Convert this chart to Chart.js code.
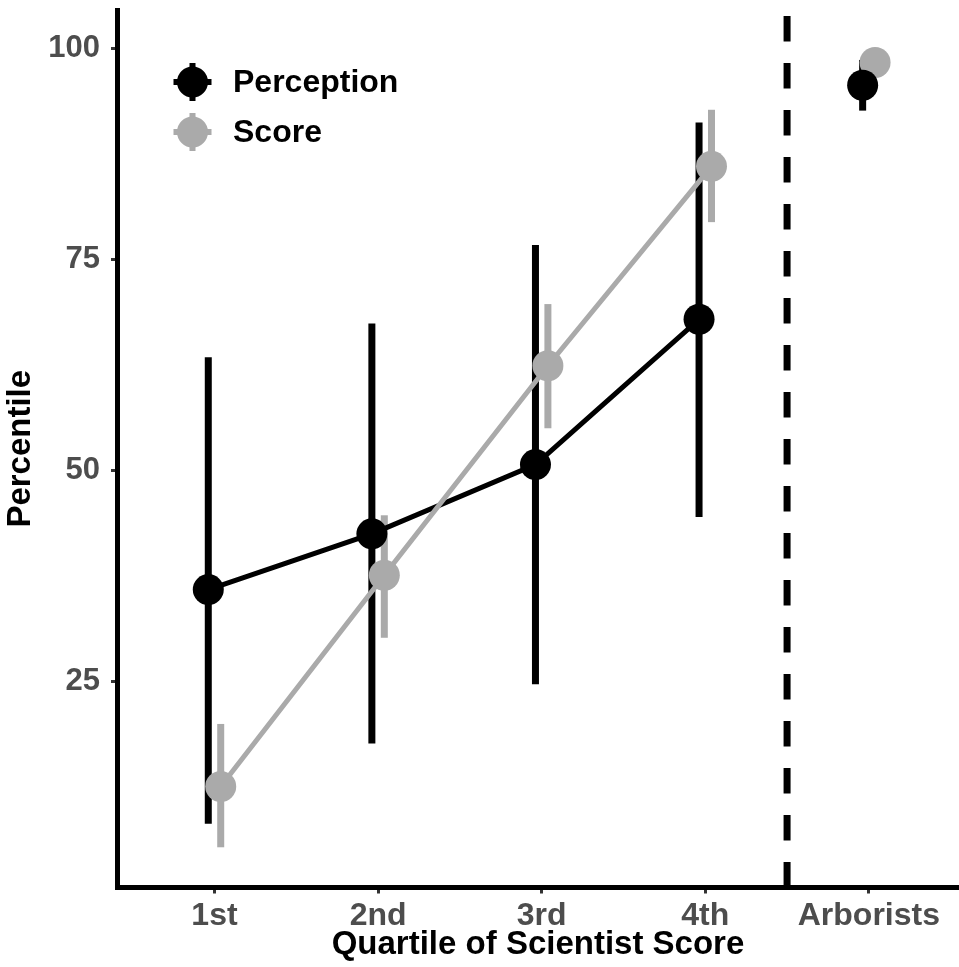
<!DOCTYPE html>
<html>
<head>
<meta charset="utf-8">
<script src="https://cdn.jsdelivr.net/npm/chart.js@4"></script>
<style>
  html, body { margin: 0; padding: 0; background: #fff; overflow: hidden; }
  #wrap { width: 959px; height: 967px; position: relative; }
</style>
</head>
<body>
<div id="wrap"><canvas id="c"></canvas></div>
<script>
// ---- data ----
const categories = ["1st", "2nd", "3rd", "4th", "Arborists"];
const seriesNames = ["Perception", "Score"];
const perception   = [35.9, 42.5, 50.7, 67.9, 95.6];
const perceptionLo = [8.2, 17.7, 24.7, 44.5, 92.6];
const perceptionHi = [63.4, 67.4, 76.7, 91.2, 98.6];
const score   = [12.6, 37.6, 62.4, 86.0, 98.3];
const scoreLo = [5.4, 30.2, 55.0, 79.4, 97.2];
const scoreHi = [20.0, 44.7, 69.7, 92.7, 99.4];
const yTickValues = [25, 50, 75, 100];
const xLabel = "Quartile of Scientist Score";
const yLabel = "Percentile";
const separatorAt = 4.5;

// ---- styling ----
const BLACK = "#000000";
const GREY = "#AAAAAA";
const DODGE = 0.038;
const FONT = "'Liberation Sans', Arial, sans-serif";

function pts(vals, dodge, from, to) {
  const out = [];
  for (let i = from; i < to; i++) out.push({ x: i + 1 + dodge, y: vals[i] });
  return out;
}
// score: quartiles connected, Arborists separate (gap)
const scorePts = pts(score, DODGE, 0, 4).concat([{ x: 4.5, y: null }, { x: 5 + DODGE, y: score[4] }]);

const errorSets = [
  { vals: perception, lo: perceptionLo, hi: perceptionHi, dodge: -DODGE, color: BLACK },
  { vals: score, lo: scoreLo, hi: scoreHi, dodge: DODGE, color: GREY }
];

const errorBarPlugin = {
  id: "errorBars",
  beforeDatasetsDraw(chart) {
    const { ctx, scales: { x, y }, chartArea } = chart;
    ctx.save();
    // dashed separator
    ctx.strokeStyle = BLACK;
    ctx.lineWidth = 7;
    ctx.setLineDash([25.5, 21.5]);
    ctx.lineDashOffset = 41;
    const sx = x.getPixelForValue(separatorAt);
    ctx.beginPath();
    ctx.moveTo(sx, chartArea.top);
    ctx.lineTo(sx, chartArea.bottom);
    ctx.stroke();
    ctx.setLineDash([]);
    // error bars
    ctx.lineCap = "butt";
    errorSets.forEach(s => {
      ctx.strokeStyle = s.color;
      ctx.lineWidth = 7;
      for (let i = 0; i < s.vals.length; i++) {
        const px = x.getPixelForValue(i + 1 + s.dodge);
        ctx.beginPath();
        ctx.moveTo(px, y.getPixelForValue(s.lo[i]));
        ctx.lineTo(px, y.getPixelForValue(s.hi[i]));
        ctx.stroke();
      }
    });
    ctx.restore();
  },
  afterDraw(chart) {
    const { ctx } = chart;
    ctx.save();
    const colors = [BLACK, GREY];
    const cx = 192.5, ys = [82, 132];
    seriesNames.forEach((name, i) => {
      const cy = ys[i];
      ctx.fillStyle = colors[i];
      ctx.strokeStyle = colors[i];
      ctx.lineWidth = 6;
      ctx.beginPath();
      ctx.moveTo(cx, cy - 19); ctx.lineTo(cx, cy + 19);
      ctx.moveTo(cx - 19, cy); ctx.lineTo(cx + 19, cy);
      ctx.stroke();
      ctx.beginPath();
      ctx.arc(cx, cy, 15.5, 0, Math.PI * 2);
      ctx.fill();
      ctx.fillStyle = BLACK;
      ctx.font = "bold 32px " + FONT;
      ctx.textBaseline = "middle";
      ctx.textAlign = "left";
      ctx.fillText(name, 233, cy + 1);
    });
    ctx.restore();
  }
};

new Chart(document.getElementById("c"), {
  type: "line",
  data: {
    datasets: [
      { // Arborists perception point (on top)
        label: seriesNames[0] + " arborists",
        data: [{ x: 5 - DODGE, y: perception[4] }],
        showLine: false,
        pointRadius: 15.5, pointBackgroundColor: BLACK, pointBorderWidth: 0,
        borderColor: BLACK
      },
      {
        label: seriesNames[1],
        data: scorePts,
        borderColor: GREY, borderWidth: 5, spanGaps: false,
        pointRadius: 15.5, pointBackgroundColor: GREY, pointBorderWidth: 0
      },
      {
        label: seriesNames[0],
        data: pts(perception, -DODGE, 0, 4),
        borderColor: BLACK, borderWidth: 5,
        pointRadius: 15.5, pointBackgroundColor: BLACK, pointBorderWidth: 0
      }
    ]
  },
  options: {
    responsive: true,
    maintainAspectRatio: false,
    animation: false,
    events: [],
    layout: { autoPadding: false, padding: { top: 10, right: 0, left: 0, bottom: 0 } },
    plugins: { legend: { display: false }, tooltip: { enabled: false } },
    scales: {
      x: {
        type: "linear",
        min: 0.404, max: 5.551,
        afterBuildTicks: s => { s.ticks = categories.map((c, i) => ({ value: i + 1 })); },
        afterFit: s => { s.height = 79.5; s.paddingLeft = 0; s.paddingRight = 0; },
        ticks: {
          autoSkip: false, maxRotation: 0,
          callback: v => categories[Math.round(v) - 1] || "",
          color: "#4D4D4D", font: { family: FONT, size: 32, weight: "bold" }, padding: 3
        },
        grid: { drawOnChartArea: false, drawTicks: true, tickLength: 6, tickWidth: 3, tickColor: "#333333" },
        border: { display: true, width: 5, color: BLACK },
        title: { display: true, text: xLabel, color: BLACK, font: { family: FONT, size: 33, weight: "bold" }, padding: { top: 0, bottom: 2 } }
      },
      y: {
        type: "linear",
        min: 0.64, max: 104.51,
        afterBuildTicks: s => { s.ticks = yTickValues.map(v => ({ value: v })); },
        afterFit: s => { s.width = 117; s.paddingTop = 0; s.paddingBottom = 0; },
        ticks: {
          autoSkip: false,
          color: "#4D4D4D", font: { family: FONT, size: 31, weight: "bold" }, padding: 11
        },
        grid: { drawOnChartArea: false, drawTicks: true, tickLength: 6, tickWidth: 3, tickColor: "#333333" },
        border: { display: true, width: 5, color: BLACK },
        title: { display: true, text: yLabel, color: BLACK, font: { family: FONT, size: 33, weight: "bold" }, padding: { top: 1, bottom: 0 } }
      }
    }
  },
  plugins: [errorBarPlugin]
});
</script>
</body>
</html>
